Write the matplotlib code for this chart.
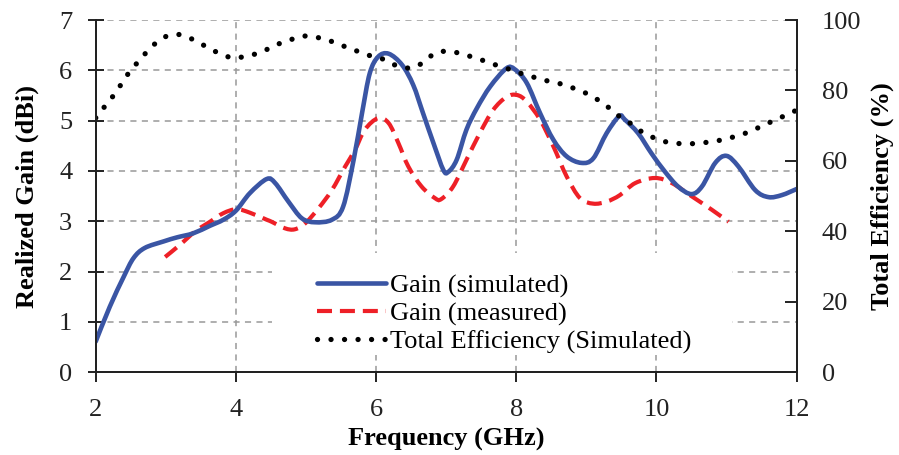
#!/usr/bin/env python3
import matplotlib

matplotlib.use("Agg")
import matplotlib.pyplot as plt
from matplotlib.lines import Line2D
from matplotlib.patches import PathPatch, Rectangle
from matplotlib.path import Path

# Gain (simulated), dBi
freq_sim = [2.00, 2.20, 2.40, 2.54, 2.70, 2.97, 3.16, 3.39, 3.63, 3.82, 4.00, 4.20,
            4.44, 4.56, 4.75, 4.94, 5.13, 5.37, 5.53, 5.68, 5.80, 5.91, 6.03, 6.18,
            6.37, 6.53, 6.67, 6.82, 6.96, 7.03, 7.15, 7.29, 7.44, 7.63, 7.86, 7.98,
            8.15, 8.34, 8.53, 8.72, 8.93, 9.10, 9.29, 9.47, 9.55, 9.74, 9.93, 10.12,
            10.31, 10.50, 10.65, 10.84, 11.00, 11.17, 11.41, 11.60, 11.79, 12.00]
gain_sim = [0.61, 1.30, 1.90, 2.27, 2.47, 2.60, 2.68, 2.76, 2.91, 3.03, 3.21, 3.56,
            3.84, 3.76, 3.39, 3.06, 2.98, 3.03, 3.29, 4.22, 5.15, 5.94, 6.27, 6.33,
            6.11, 5.71, 5.15, 4.55, 4.02, 3.98, 4.22, 4.82, 5.25, 5.68, 6.04, 6.02,
            5.75, 5.15, 4.62, 4.29, 4.16, 4.25, 4.75, 5.09, 5.02, 4.75, 4.35, 3.99,
            3.69, 3.54, 3.69, 4.16, 4.30, 4.09, 3.62, 3.48, 3.52, 3.64]

# Gain (measured), dBi
freq_meas = [2.99, 3.20, 3.42, 3.63, 3.82, 4.01, 4.20, 4.44, 4.51, 4.70, 4.84, 4.99,
             5.18, 5.37, 5.56, 5.70, 5.84, 6.03, 6.18, 6.32, 6.46, 6.65, 6.84, 6.93,
             7.10, 7.29, 7.48, 7.67, 7.86, 8.01, 8.15, 8.34, 8.53, 8.72, 8.91, 9.10,
             9.29, 9.48, 9.70, 9.98, 10.22, 10.50, 10.79, 11.03]
gain_meas = [2.29, 2.53, 2.80, 2.99, 3.16, 3.24, 3.17, 3.03, 2.99, 2.86, 2.84, 2.96,
             3.26, 3.62, 4.09, 4.42, 4.82, 5.05, 4.95, 4.55, 4.09, 3.69, 3.46, 3.44,
             3.69, 4.22, 4.75, 5.21, 5.47, 5.51, 5.38, 5.02, 4.49, 3.89, 3.46, 3.35,
             3.39, 3.52, 3.76, 3.86, 3.76, 3.50, 3.23, 2.99]

# Total efficiency (simulated), %
freq_eff = [2.00, 2.11, 2.22, 2.32, 2.41, 2.51, 2.62, 2.74, 2.86, 3.01, 3.18, 3.34,
            3.50, 3.65, 3.81, 3.96, 4.14, 4.30, 4.46, 4.62, 4.78, 4.95, 5.12, 5.29,
            5.45, 5.60, 5.77, 5.94, 6.10, 6.26, 6.42, 6.58, 6.72, 6.87, 7.03, 7.21,
            7.37, 7.53, 7.70, 7.85, 8.02, 8.19, 8.35, 8.51, 8.68, 8.85, 9.01, 9.16,
            9.31, 9.44, 9.58, 9.72, 9.86, 10.02, 10.18, 10.36, 10.53, 10.69, 10.87,
            11.04, 11.21, 11.37, 11.52, 11.68, 11.83, 11.99]
eff_sim = [72.2, 75.0, 77.7, 80.4, 83.3, 85.9, 88.5, 91.2, 93.5, 95.4, 95.9, 94.9,
           93.3, 91.6, 90.2, 89.2, 89.7, 90.5, 91.8, 93.3, 94.4, 95.4, 95.2, 94.4,
           93.3, 92.1, 90.9, 89.7, 88.9, 87.3, 86.4, 86.8, 88.9, 90.8, 91.1, 90.5,
           89.5, 88.5, 87.3, 86.4, 85.1, 84.2, 83.1, 82.5, 81.6, 80.4, 79.1, 77.4,
           75.3, 73.1, 71.4, 69.3, 67.4, 66.2, 65.2, 64.9, 64.9, 65.2, 65.7,
           66.5, 67.4, 68.7, 70.0, 71.5, 72.8, 74.3]

x_ticks = [2, 4, 6, 8, 10, 12]
gain_ticks = [0, 1, 2, 3, 4, 5, 6, 7]
eff_ticks = [0, 20, 40, 60, 80, 100]

BLUE = "#3A55A4"
RED = "#EE2027"
INK = "#222222"
FS = 19


def smooth_path(xs, ys):
  # Excel-style smoothed line: cubic Bezier through every data point
  pts = list(zip(xs, ys))
  n = len(pts)
  verts = [pts[0]]
  codes = [Path.MOVETO]
  for i in range(n - 1):
    p0 = pts[i - 1] if i > 0 else pts[i]
    p1 = pts[i]
    p2 = pts[i + 1]
    p3 = pts[i + 2] if i + 2 < n else pts[i + 1]
    c1 = (p1[0] + (p2[0] - p0[0]) / 6.0, p1[1] + (p2[1] - p0[1]) / 6.0)
    c2 = (p2[0] - (p3[0] - p1[0]) / 6.0, p2[1] - (p3[1] - p1[1]) / 6.0)
    verts += [c1, c2, p2]
    codes += [Path.CURVE4] * 3
  return Path(verts, codes)


def add_curve(ax, xs, ys, **style):
  patch = PathPatch(smooth_path(xs, ys), fill=False, **style)
  ax.add_patch(patch)


def main():
  plt.rcParams["font.family"] = ["Liberation Serif", "DejaVu Serif"]
  plt.rcParams["font.size"] = FS

  fig = plt.figure(figsize=(8.99, 4.55), dpi=100)
  ax = fig.add_axes([0.1065, 0.182, 0.7795, 0.774])
  ax2 = ax.twinx()

  ax.set_xlim(2, 12)
  ax.set_ylim(0, 7)
  ax2.set_ylim(0, 100)
  ax.set_xticks(x_ticks)
  ax.set_yticks(gain_ticks)
  ax2.set_yticks(eff_ticks)

  ax.set_axisbelow(True)
  ax.grid(True, color="#999999", linestyle=(0, (4, 3.5)), linewidth=1.1)
  # white area behind the legend hides the grid there
  ax.add_patch(Rectangle((4.52, 0.34), 6.56, 2.03, facecolor="white",
                         edgecolor="none", zorder=1))

  for a in (ax, ax2):
    a.spines["top"].set_visible(False)
    for side in ("left", "right", "bottom"):
      a.spines[side].set_linewidth(1.4)
      a.spines[side].set_color(INK)

  ax.tick_params(axis="x", direction="out", length=7, width=1.4, pad=12,
                 colors=INK, labelcolor=INK)
  ax.tick_params(axis="y", direction="inout", length=12, width=1.4, pad=11,
                 colors=INK, labelcolor=INK)
  ax2.tick_params(axis="y", direction="in", length=9, width=1.4, pad=18,
                  colors=INK, labelcolor=INK)

  sim_style = dict(edgecolor=BLUE, linewidth=3.3, joinstyle="round",
                   capstyle="round", zorder=3)
  meas_style = dict(edgecolor=RED, linewidth=3.0, linestyle=(0, (3.6, 1.9)),
                    capstyle="butt", zorder=2)
  eff_style = dict(edgecolor="black", linewidth=3.8, linestyle=(0, (0.01, 2.55)),
                   capstyle="round", zorder=2)
  add_curve(ax, freq_sim, gain_sim, **sim_style)
  add_curve(ax, freq_meas, gain_meas, **meas_style)
  add_curve(ax2, freq_eff, eff_sim, **eff_style)

  handles = [
    Line2D([], [], color=BLUE, linewidth=3.3, solid_capstyle="round",
           label="Gain (simulated)"),
    Line2D([], [], color=RED, linewidth=3.0, linestyle=(0, (3.6, 1.9)),
           label="Gain (measured)"),
    Line2D([], [], color="black", linewidth=3.8, linestyle=(0, (0.01, 2.55)),
           dash_capstyle="round", label="Total Efficiency (Simulated)"),
  ]

  ax.set_xlabel("Frequency (GHz)", fontweight="bold", labelpad=5)
  ax.set_ylabel("Realized Gain (dBi)", fontweight="bold", labelpad=14)
  ax2.set_ylabel("Total Efficiency (%)", fontweight="bold", labelpad=7)

  ax2.legend(handles=handles, loc="upper left",
             bbox_to_anchor=(0.338, 0.427), bbox_transform=fig.transFigure,
             frameon=False, handlelength=2.6, handletextpad=0.15,
             labelspacing=0.15, borderpad=0.0, fontsize=FS)

  fig.savefig("out.png", dpi=100)
  plt.close(fig)


if __name__ == "__main__":
  main()
